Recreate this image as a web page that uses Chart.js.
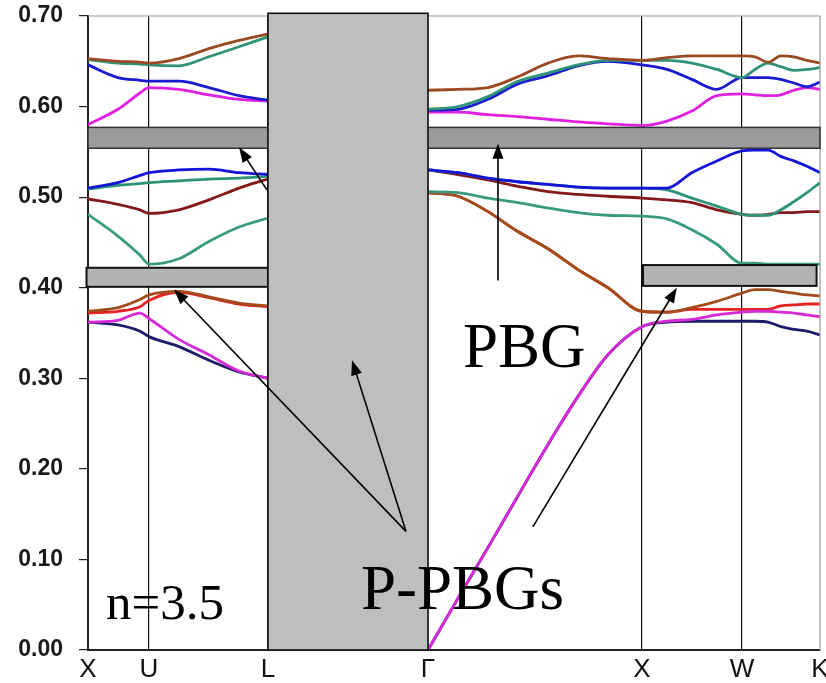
<!DOCTYPE html>
<html>
<head>
<meta charset="utf-8">
<script src="https://cdn.jsdelivr.net/npm/chart.js@4/dist/chart.umd.min.js"></script>
<style>
  html, body { margin: 0; padding: 0; background: #fff; }
  canvas { display: block; }
</style>
</head>
<body>
<canvas id="bands" width="826" height="683"></canvas>
<script>
// k-path sample positions (Γ-X length = 1), null column at 1.2 hides L-Γ
const kPath = [0, 0.140, 0.243, 0.285, 0.425, 0.565, 0.706, 0.841, 1.2,
  1.589, 1.729, 1.869, 2.009, 2.150, 2.290, 2.430, 2.589,
  2.706, 2.822, 2.939, 3.056,
  3.117, 3.178, 3.238, 3.299, 3.360, 3.421];
const kTicks = [0, 0.285, 0.841, 1.589, 2.589, 3.056, 3.421];
const kLabels = ['X', 'U', 'L', 'Γ', 'X', 'W', 'K'];
const yTicks = [0, 0.1, 0.2, 0.3, 0.4, 0.5, 0.6, 0.7];

// bands, normalised frequency
const brownHi = [0.653, 0.650, 0.649, 0.648, 0.653, 0.664, 0.673, 0.680, null,
  0.618, 0.619, 0.621, 0.633, 0.648, 0.656, 0.653, 0.651,
  0.654, 0.656, 0.656, 0.656, 0.655, 0.649, 0.656, 0.655, 0.651, 0.648];
const tealHi = [0.652, 0.648, 0.647, 0.646, 0.645, 0.655, 0.666, 0.677, null,
  0.597, 0.600, 0.611, 0.628, 0.637, 0.646, 0.651, 0.651,
  0.651, 0.648, 0.641, 0.632, 0.641, 0.648, 0.644, 0.640, 0.641, 0.643];
const blueHi = [0.646, 0.632, 0.629, 0.628, 0.628, 0.621, 0.612, 0.607, null,
  0.596, 0.597, 0.608, 0.625, 0.634, 0.645, 0.650, 0.646,
  0.641, 0.630, 0.619, 0.632, 0.632, 0.632, 0.630, 0.626, 0.622, 0.627];
const magentaHi = [0.580, 0.597, 0.615, 0.621, 0.619, 0.613, 0.608, 0.606, null,
  0.594, 0.594, 0.591, 0.589, 0.586, 0.583, 0.581, 0.579,
  0.584, 0.595, 0.612, 0.614, 0.613, 0.612, 0.613, 0.618, 0.621, 0.619];
const blueMid = [0.510, 0.516, 0.524, 0.527, 0.530, 0.531, 0.527, 0.525, null,
  0.530, 0.527, 0.521, 0.517, 0.514, 0.511, 0.510, 0.510,
  0.510, 0.527, 0.540, 0.551, 0.552, 0.552, 0.545, 0.540, 0.534, 0.527];
const tealMid = [0.509, 0.513, 0.515, 0.516, 0.518, 0.520, 0.521, 0.523, null,
  0.530, 0.527, 0.521, 0.517, 0.514, 0.511, 0.510, 0.510,
  0.508, 0.499, 0.490, 0.481, 0.480, 0.480, 0.486, 0.495, 0.505, 0.516];
const darkRed = [0.498, 0.492, 0.486, 0.482, 0.486, 0.497, 0.510, 0.520, null,
  0.530, 0.525, 0.519, 0.512, 0.506, 0.503, 0.501, 0.499,
  0.497, 0.494, 0.486, 0.481, 0.480, 0.481, 0.483, 0.483, 0.484, 0.484];
const tealLow = [0.481, 0.457, 0.436, 0.426, 0.432, 0.451, 0.467, 0.477, null,
  0.506, 0.505, 0.499, 0.494, 0.488, 0.483, 0.480, 0.479,
  0.476, 0.464, 0.448, 0.427, 0.427, 0.426, 0.426, 0.426, 0.426, 0.426];
const brownLow = [0.374, 0.378, 0.387, 0.392, 0.396, 0.390, 0.383, 0.380, null,
  0.505, 0.501, 0.484, 0.462, 0.443, 0.420, 0.400, 0.374,
  0.373, 0.378, 0.385, 0.394, 0.398, 0.398, 0.396, 0.394, 0.392, 0.391];
const redLow = [0.372, 0.374, 0.379, 0.386, 0.395, 0.389, 0.382, 0.379, null,
  0.505, 0.501, 0.484, 0.462, 0.443, 0.420, 0.400, 0.374,
  0.373, 0.376, 0.376, 0.376, 0.376, 0.376, 0.380, 0.381, 0.382, 0.382];
const magentaLow = [0.362, 0.364, 0.372, 0.366, 0.343, 0.326, 0.308, 0.300, null,
  0.000, 0.057, 0.113, 0.170, 0.227, 0.280, 0.326, 0.357,
  0.363, 0.365, 0.370, 0.373, 0.374, 0.374, 0.373, 0.372, 0.370, 0.368];
const navyLow = [0.362, 0.359, 0.352, 0.346, 0.335, 0.320, 0.307, 0.300, null,
  0.000, 0.057, 0.113, 0.170, 0.227, 0.280, 0.326, 0.357,
  0.362, 0.363, 0.363, 0.363, 0.363, 0.362, 0.357, 0.354, 0.352, 0.348];

// gap boxes [k0, k1, w0, w1]
const fullGap = [0, 3.421, 0.554, 0.577];
const lgBox = [0.841, 1.589, 0, 0.703];
const leftPartial = [-0.007, 0.841, 0.401, 0.422];
const rightPartial = [2.594, 3.405, 0.402, 0.425];

// arrows [kFrom, wFrom, kTo, wTo]
const arrows = [
  [0.836, 0.508, 0.706, 0.555],
  [1.916, 0.408, 1.916, 0.559],
  [1.486, 0.131, 0.402, 0.398],
  [1.486, 0.131, 1.234, 0.320],
  [2.079, 0.136, 2.752, 0.400]
];

// line order: first entry is drawn on top
const bandList = [
  ['brownHi', brownHi, '#9a4a22'],
  ['tealHi', tealHi, '#2f9378'],
  ['blueHi', blueHi, '#1a1ad0'],
  ['magentaHi', magentaHi, '#e020e0'],
  ['blueMid', blueMid, '#1414d8'],
  ['tealMid', tealMid, '#2f9378'],
  ['darkRed', darkRed, '#851818'],
  ['tealLow', tealLow, '#3a9a80'],
  ['magentaLow', magentaLow, '#d72ad7'],
  ['brownLow', brownLow, '#a24c1c'],
  ['redLow', redLow, '#e42222'],
  ['navyLow', navyLow, '#1c1c6a']
];

const datasets = bandList.map(([name, vals, color]) => ({
  label: name,
  data: kPath.map((k, i) => ({ x: k, y: vals[i] })),
  borderColor: color,
  borderWidth: 2.8,
  pointRadius: 0,
  cubicInterpolationMode: 'monotone',
  spanGaps: false,
  fill: false
}));

function drawBox(ctx, xs, ys, b, fill, stroke, lw) {
  const x0 = xs.getPixelForValue(b[0]);
  const x1 = xs.getPixelForValue(b[1]);
  const y0 = ys.getPixelForValue(b[3]);
  const y1 = ys.getPixelForValue(b[2]);
  ctx.fillStyle = fill;
  ctx.fillRect(x0, y0, x1 - x0, y1 - y0);
  ctx.strokeStyle = stroke;
  ctx.lineWidth = lw;
  ctx.strokeRect(x0, y0, x1 - x0, y1 - y0);
}

function drawArrow(ctx, x1, y1, x2, y2) {
  const ang = Math.atan2(y2 - y1, x2 - x1);
  const head = 15, half = 5.5;
  ctx.strokeStyle = '#000';
  ctx.lineWidth = 1.6;
  ctx.beginPath();
  ctx.moveTo(x1, y1);
  ctx.lineTo(x2 - Math.cos(ang) * head * 0.8, y2 - Math.sin(ang) * head * 0.8);
  ctx.stroke();
  ctx.fillStyle = '#000';
  ctx.beginPath();
  ctx.moveTo(x2, y2);
  ctx.lineTo(x2 - Math.cos(ang) * head - Math.sin(ang) * half, y2 - Math.sin(ang) * head + Math.cos(ang) * half);
  ctx.lineTo(x2 - Math.cos(ang) * head + Math.sin(ang) * half, y2 - Math.sin(ang) * head - Math.cos(ang) * half);
  ctx.closePath();
  ctx.fill();
}

const overlay = {
  id: 'overlay',
  afterDatasetsDraw(chart) {
    const ctx = chart.ctx;
    const xs = chart.scales.x, ys = chart.scales.y;
    const area = chart.chartArea;
    ctx.save();
    // frame top / right
    ctx.strokeStyle = '#9a9a9a';
    ctx.lineWidth = 1.2;
    ctx.beginPath();
    ctx.moveTo(area.left, area.top);
    ctx.lineTo(area.right, area.top);
    ctx.lineTo(area.right, area.bottom);
    ctx.stroke();

    drawBox(ctx, xs, ys, fullGap, '#9b9b9b', '#333', 1.5);
    drawBox(ctx, xs, ys, leftPartial, '#b3b3b3', '#111', 2);
    drawBox(ctx, xs, ys, rightPartial, '#b3b3b3', '#111', 2);
    drawBox(ctx, xs, ys, lgBox, '#bebebe', '#111', 1.6);

    arrows.forEach(a => drawArrow(ctx,
      xs.getPixelForValue(a[0]), ys.getPixelForValue(a[1]),
      xs.getPixelForValue(a[2]), ys.getPixelForValue(a[3])));

    ctx.fillStyle = '#000';
    ctx.textBaseline = 'alphabetic';
    ctx.textAlign = 'left';
    ctx.font = '63px "Liberation Serif", "Times New Roman", serif';
    ctx.fillText('PBG', xs.getPixelForValue(1.752), ys.getPixelForValue(0.3127));
    ctx.fillText('P-PBGs', xs.getPixelForValue(1.276), ys.getPixelForValue(0.0453));
    ctx.font = '51px "Liberation Serif", "Times New Roman", serif';
    ctx.fillText('n=3.5', xs.getPixelForValue(0.084), ys.getPixelForValue(0.0343));
    ctx.restore();
  }
};

// drop Chart.js label-overflow padding so the plot box sits where the reference has it
function noOverflow(s) {
  s.paddingTop = 0;
  s.paddingBottom = 0;
  s.paddingLeft = 0;
  s.paddingRight = 0;
}

new Chart(document.getElementById('bands'), {
  type: 'line',
  data: { datasets },
  plugins: [overlay],
  options: {
    responsive: false,
    animation: false,
    devicePixelRatio: 1,
    layout: { padding: { top: 16, right: 6, left: 0, bottom: 0 } },
    plugins: {
      legend: { display: false },
      tooltip: { enabled: false }
    },
    scales: {
      x: {
        type: 'linear',
        min: 0,
        max: kTicks[kTicks.length - 1],
        afterBuildTicks: s => { s.ticks = kTicks.map(v => ({ value: v })); },
        afterFit: s => { s.height = 33; noOverflow(s); },
        grid: {
          drawTicks: false,
          color: c => (c.index === 0 || c.index === kTicks.length - 1) ? 'rgba(0,0,0,0)' : '#111',
          lineWidth: 1.2
        },
        border: { color: '#222', width: 2 },
        ticks: {
          autoSkip: false,
          maxRotation: 0,
          padding: 4,
          color: '#111',
          font: { family: '"Liberation Sans", Arial, sans-serif', size: 26 },
          callback: (v, i) => kLabels[i]
        }
      },
      y: {
        min: 0,
        max: 0.7,
        afterBuildTicks: s => { s.ticks = yTicks.map(v => ({ value: v })); },
        afterFit: s => { s.width = 88; noOverflow(s); },
        grid: {
          drawOnChartArea: false,
          drawTicks: true,
          tickLength: 9,
          color: '#222',
          lineWidth: 1.2
        },
        border: { color: '#222', width: 2 },
        ticks: {
          padding: 16,
          color: '#1a1a1a',
          font: { family: '"Liberation Sans", Arial, sans-serif', size: 23, weight: 'bold' },
          callback: v => v.toFixed(2)
        }
      }
    }
  }
});
</script>
</body>
</html>
